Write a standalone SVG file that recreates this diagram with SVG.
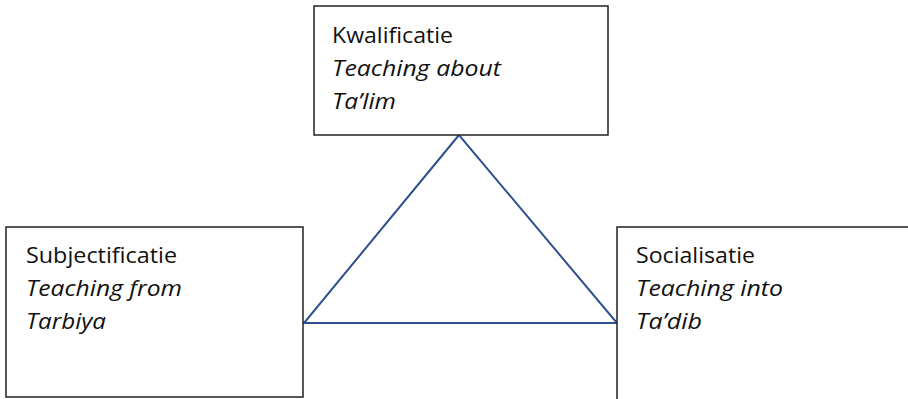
<svg xmlns="http://www.w3.org/2000/svg" width="908" height="399" viewBox="0 0 908 399">
<style>
.box{fill:#fff;stroke:#222;stroke-width:1.5}
.t{font-family:"Open Sans","Liberation Sans",sans-serif;font-size:22px;fill:#111}
.i{font-style:italic}
.edge{fill:none;stroke:#2F4F8F;stroke-width:2}
</style>
<rect width="908" height="399" fill="#fff"/>
<g id="connectors">
<polygon class="edge" points="459,135 304,323 617,323"/>
</g>
<g id="kwalificatie">
<rect class="box" x="314" y="6" width="294" height="129"/>
<text class="t" x="332" y="43" textLength="121" lengthAdjust="spacingAndGlyphs">Kwalificatie</text>
<text class="t i" x="332" y="76" textLength="169" lengthAdjust="spacingAndGlyphs">Teaching about</text>
<text class="t i" x="332" y="109" textLength="64" lengthAdjust="spacingAndGlyphs">Ta’lim</text>
</g>
<g id="subjectificatie">
<rect class="box" x="6" y="227" width="297" height="170"/>
<text class="t" x="26" y="263" textLength="151" lengthAdjust="spacingAndGlyphs">Subjectificatie</text>
<text class="t i" x="26" y="296" textLength="156" lengthAdjust="spacingAndGlyphs">Teaching from</text>
<text class="t i" x="26" y="329" textLength="80" lengthAdjust="spacingAndGlyphs">Tarbiya</text>
</g>
<g id="socialisatie">
<rect class="box" x="617" y="227" width="300" height="180"/>
<text class="t" x="636" y="263" textLength="119" lengthAdjust="spacingAndGlyphs">Socialisatie</text>
<text class="t i" x="636" y="296" textLength="147" lengthAdjust="spacingAndGlyphs">Teaching into</text>
<text class="t i" x="636" y="329" textLength="66" lengthAdjust="spacingAndGlyphs">Ta’dib</text>
</g>
</svg>
